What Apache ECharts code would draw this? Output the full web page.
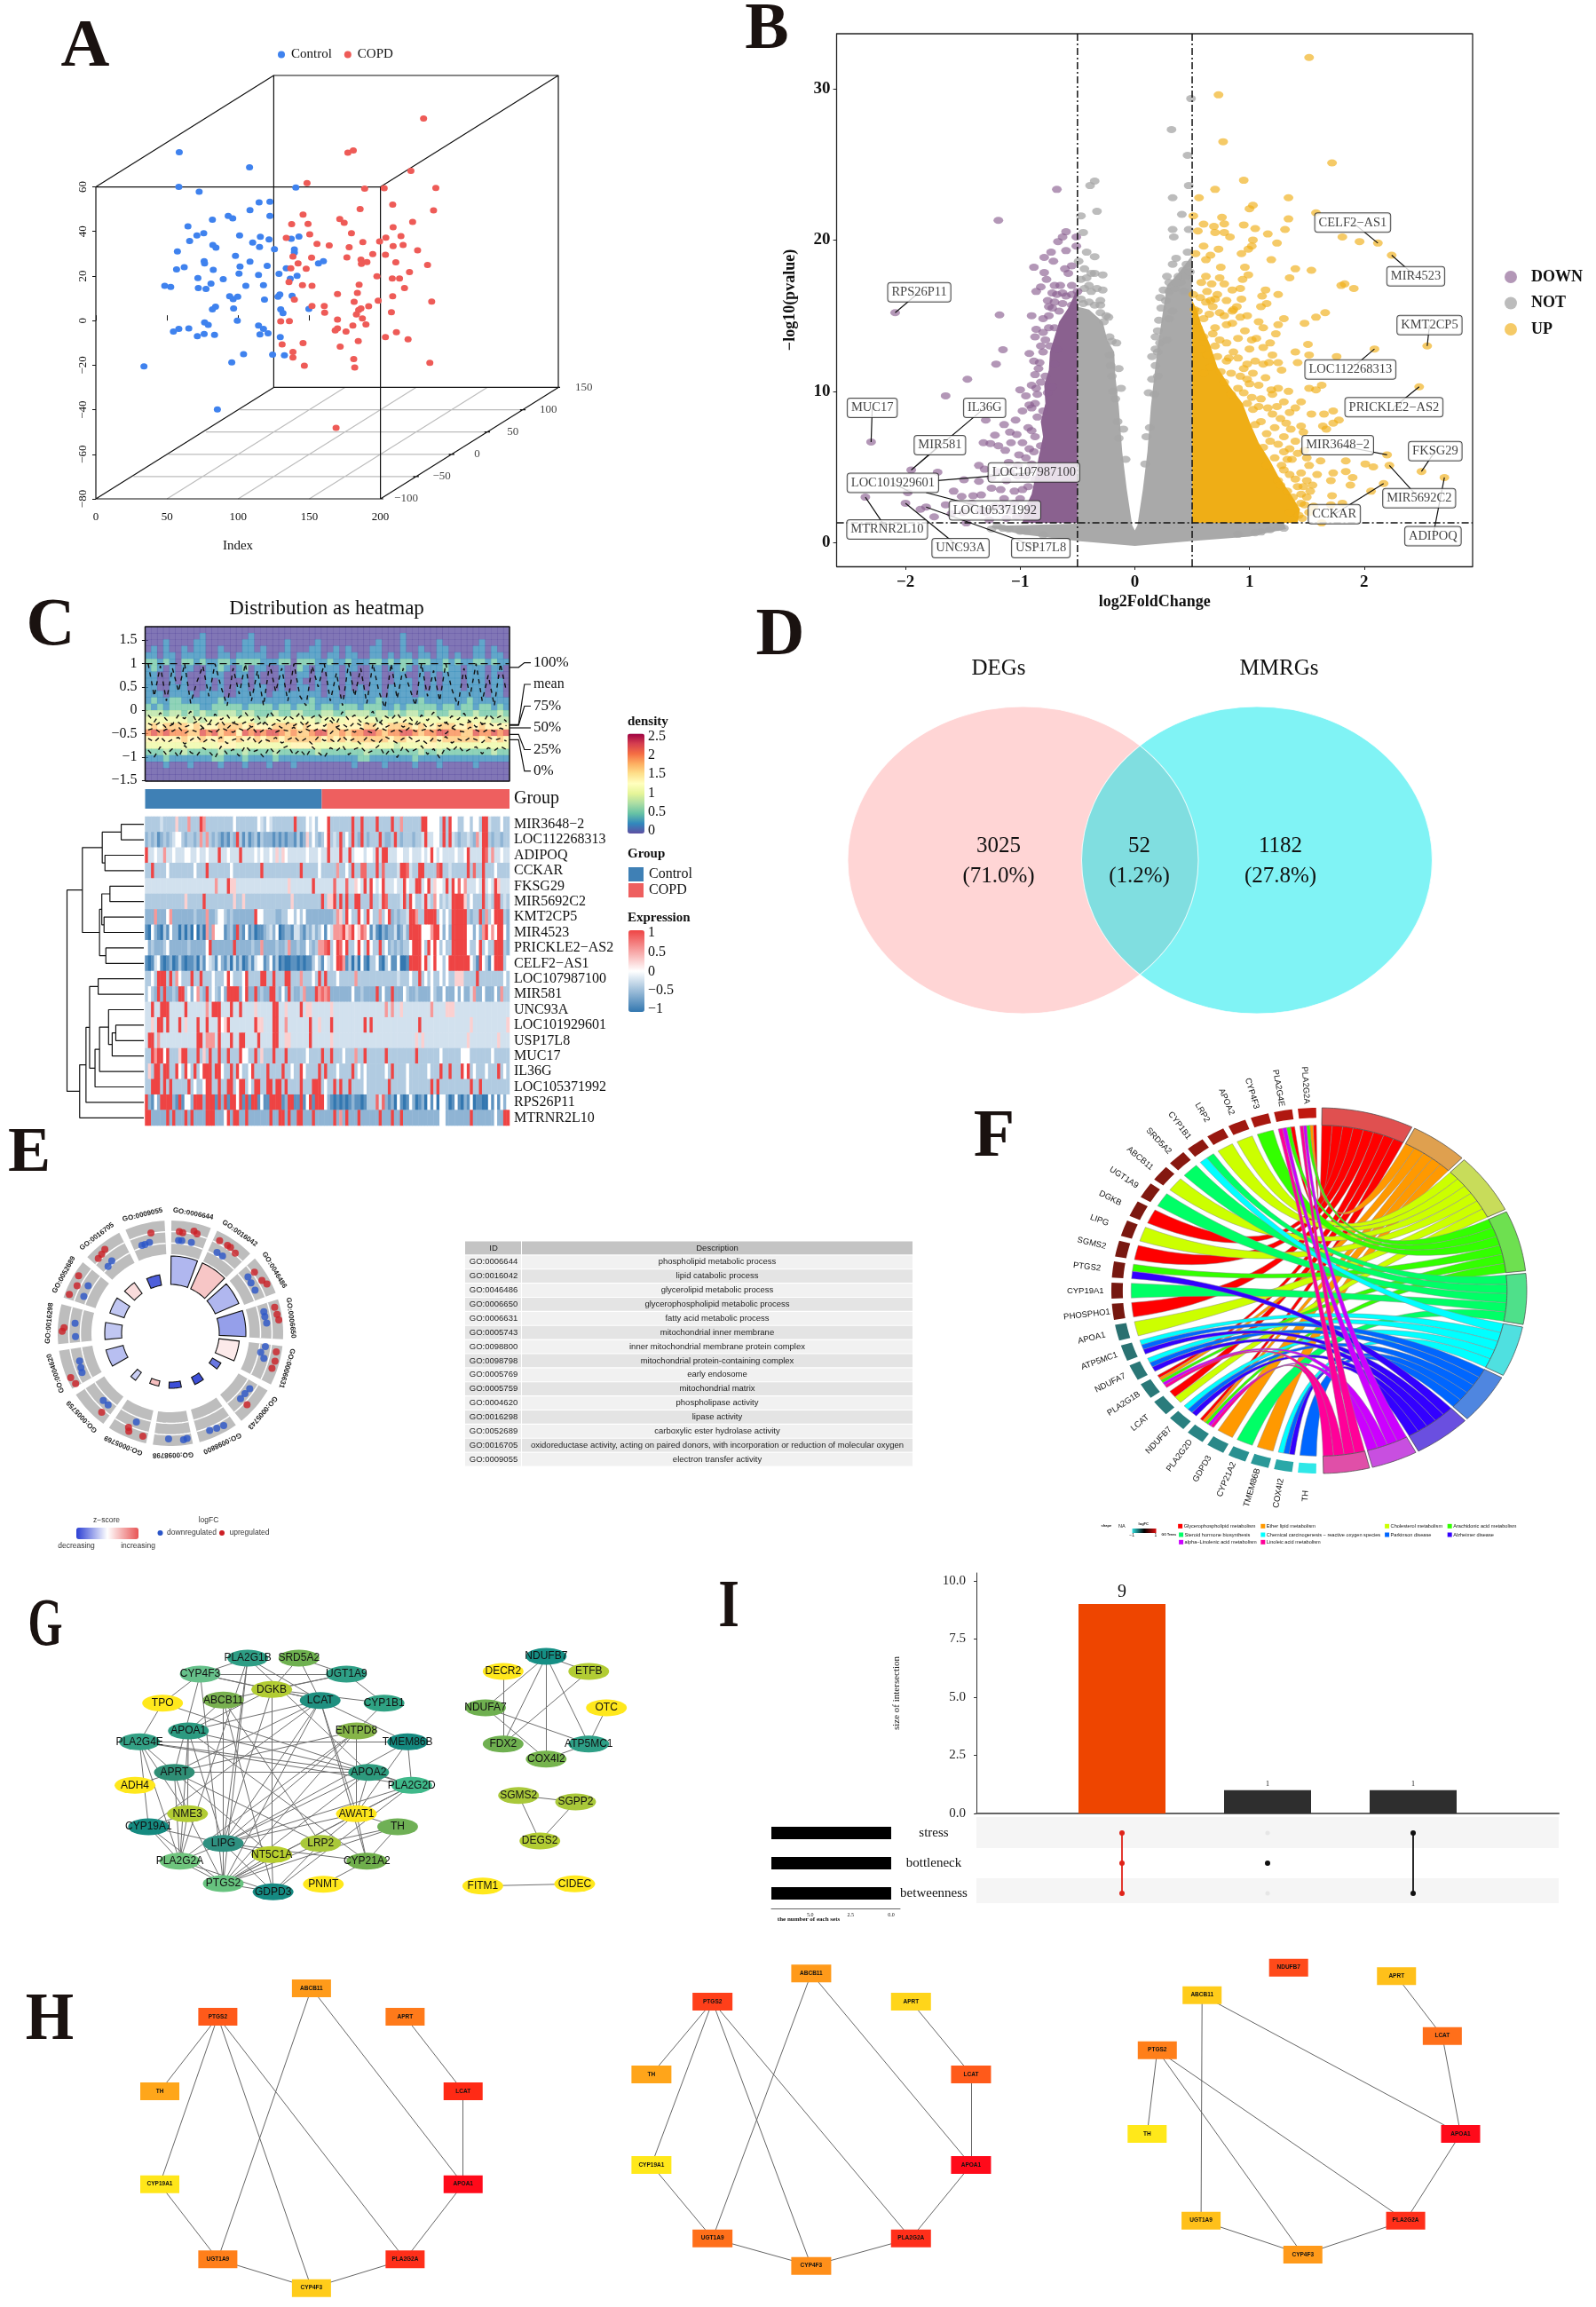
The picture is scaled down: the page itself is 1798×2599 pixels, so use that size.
<!DOCTYPE html>
<html><head><meta charset="utf-8">
<script src="https://cdn.jsdelivr.net/npm/echarts@6/dist/echarts.min.js"></script>
<style>html,body{margin:0;padding:0;background:#fff}#c{width:1798px;height:2599px}</style>
</head><body><div id="c"></div>
<script>
const SERIF='Liberation Serif', SANS='Liberation Sans';
/* ---------- A: 3D scatter, projected values ---------- */
const controlPoints=[[58.6,75.5],[108,68.8],[58.3,60],[72.6,57.8],[140.5,59.7],[114.7,53],[122.3,53.3],[108.3,49.6],[93,47],[96.2,45.9],[81.9,45.3],[122.3,47],[64.7,42.3],[75.8,39.2],[71,38.2],[65.9,35.7],[101,38.2],[115.6,37.6],[121.7,36.4],[110.2,35],[137.3,36.7],[142.7,37.7],[82.2,33.9],[84.4,32.7],[115,33],[125.5,32],[139.5,31.9],[139.5,30.5],[57.3,31],[98.1,29],[76.1,26.7],[76.4,25.7],[108.3,26.5],[62.1,24],[56.7,23],[101.3,24.3],[82.5,22.8],[120.4,24.6],[133.8,23.5],[159.9,26.7],[156.4,25.7],[100.6,21.1],[114.3,20.5],[128.7,21],[141.4,20.1],[136.6,18.8],[71.7,19.1],[89.5,18.6],[80.9,16.6],[48.4,15.6],[52.6,15.1],[72,14.6],[77.4,14.2],[105.4,15.6],[117.8,15.9],[94,10.9],[96.5,9.6],[99.7,10.7],[118.5,9.4],[128,10.7],[129.3,11.7],[137.9,11.1],[84.1,6.2],[81.9,5],[96.8,5.4],[129.9,5],[131.5,3.3],[149.7,5.2],[99.4,0],[76.4,-0.8],[79,-1.9],[114.3,-2.2],[117.8,-3.7],[121,-5.7],[115.3,-6.2],[65.3,-3.5],[58.3,-3.7],[54.5,-4.9],[71.3,-7],[76.1,-6],[83.4,-6.4],[129.6,-7.4],[103.8,-15.1],[124.2,-15.3],[132.5,-15.6],[95.5,-18.8],[33.8,-20.6],[85.4,-39.9]];
const copdPoints=[[230.3,90.7],[177.1,75.3],[180.9,76.3],[221.4,67.2],[148.4,61.7],[188.9,59.2],[202.6,59.4],[238.9,59.5],[208.6,52],[185.7,50.1],[237.3,49.5],[145.6,47.6],[171.4,45.6],[174.5,43.9],[222.6,44.3],[137.6,43.3],[149.1,43.4],[208.9,41.9],[179.6,39.2],[150.3,38.7],[133.8,37.1],[203.8,37.2],[214.4,37.9],[187.6,35.2],[199.4,35.5],[155.4,34.4],[164,33.7],[178,32.9],[208.9,33.4],[215.9,33.9],[226.1,31.5],[194.6,29.8],[203.5,29.5],[138.5,28.7],[151.6,28.2],[176.4,28.3],[186.3,27.3],[190.5,26.3],[186.6,25.5],[210.8,26.2],[142.1,25.7],[137,23.5],[147.8,23.3],[233.1,25],[220.4,21.8],[197.5,19.9],[208.3,18.9],[213.4,18.9],[135.7,17.3],[145.2,15.9],[151.9,15.6],[185,16.1],[216.9,14.6],[183.8,12.4],[169.8,11.9],[208.6,10.9],[139.5,9.4],[181.5,8.4],[198.4,8.9],[236,8.5],[151.9,6.5],[160.5,6.5],[191.7,6.4],[186.3,5.4],[184.7,4.7],[207.7,3.7],[160.8,3.5],[183.1,2.8],[187.3,1],[169.8,0.5],[136,-0.2],[129.9,-0.3],[189.8,-1.7],[180.6,-2.2],[169.8,-3.5],[168.2,-4.4],[175.8,-4.9],[211.2,-5.2],[203.5,-7.4],[219.4,-8.4],[184.4,-9.2],[145.6,-10.1],[130.9,-10.7],[171.7,-11.7],[138.5,-14.1],[138.5,-16.6],[181.2,-17.3],[234.7,-19],[146.5,-20.3],[181.9,-21],[168.8,-48.1]];
const aIndexTicks=[0,50,100,150,200];
const aValueTicks=[-80,-60,-40,-20,0,20,40,60];
const aDepthLabels=[[218,-80,'−100'],[243,-70,'−50'],[268,-60,'0'],[293,-50,'50'],[318,-40,'100'],[343,-30,'150']];
const aBoxLines=[[[0,-80],[200,-80],[200,60],[0,60],[0,-80]],[[125,-30],[325,-30],[325,110],[125,110],[125,-30]],[[0,-80],[125,-30]],[[200,-80],[325,-30]],[[0,60],[125,110]],[[200,60],[325,110]],[[198,-80],[202,-80]],[[223,-70],[227,-70]],[[248,-60],[252,-60]],[[273,-50],[277,-50]],[[298,-40],[302,-40]],[[323,-30],[327,-30]]];
const aFloorLines=[[[101.3,-40],[298,-40]],[[77.4,-50],[273,-50]],[[51,-60],[249,-60]],[[26.4,-70],[224,-70]],[[50,-80],[175,-30]],[[100,-80],[225,-30]],[[150,-80],[275,-30]]];
/* ---------- B: volcano ---------- */
const downPoints=[[-.68,23.35],[-1.19,21.3],[-.6,20.55],[-.63,20.2],[-.51,20.2],[-.67,19.9],[-.51,19.6],[-.6,19.3],[-.73,19.2],[-.79,18.85],[-.71,18.6],[-.55,18.3],[-.88,18.2],[-.61,18.1],[-.79,17.85],[-.58,17.8],[-.77,17.4],[-.7,17],[-.82,16.9],[-.86,16.6],[-.5,16.6],[-.63,16.5],[-.76,16],[-.55,15.7],[-2.09,15.2],[-1.18,15.05],[-.9,15],[-.75,15],[-.66,15.3],[-.86,14.1],[-.8,13.9],[-.87,13.6],[-1.15,12.75],[-1.21,11.8],[-1.46,10.8],[-1,10.1],[-1.65,9.7],[-.87,11.1],[-.82,10.6],[-.95,9.7],[-.87,9.2],[-1.04,8.1],[-2.3,6.65],[-1.3,8.1],[-1.14,7.8],[-1.09,7.3],[-1.03,7.15],[-1.22,7.1],[-1.32,6.6],[-1.26,6.55],[-1.19,6.4],[-1.13,6.1],[-1.36,5.1],[-1.31,4.85],[-1.95,4.8],[-1.72,4.65],[-1.49,4.15],[-1.36,4.05],[-1.58,3.4],[-1.51,3.05],[-1.41,3.1],[-1.34,3.15],[-1.98,3.3],[-2.35,3],[-2,2.6],[-1.65,2.5],[-1.82,2.35],[-1.87,2.2],[-1.75,1.7],[-1.47,1.3],[-1.14,2.9],[-1,2.9],[-.92,6.2],[-1.02,5.1],[-1.09,4.7],[-1.17,3.5],[-1.25,4.3],[-1.1,5.3],[-.95,4.4],[-1.05,3.4],[-1.22,2.4],[-1.3,2],[-1.08,2.1],[-.97,1.8],[-.9,7.4],[-.85,8.3],[-.83,11.9],[-.8,12.6],[-.75,14.2],[-.72,15.5],[-.92,4.8],[-.98,3.5],[-.92,12.5],[-.88,12],[-.84,11.5],[-.78,11],[-.9,10.4],[-.85,9.8],[-.9,8.9],[-.8,8.7],[-.76,9.9],[-.72,10.3],[-.7,11.8],[-.68,12.8],[-.74,13],[-.7,14.2],[-.8,14.8],[-.75,15.6],[-.7,15.9],[-.63,15.8],[-.6,16.3],[-.55,16.4],[-.68,16.4],[-.72,16.5],[-.65,17],[-.55,17],[-.78,13.4],[-.82,13],[-.86,10.2],[-.92,9.1],[-.98,8.7],[-.93,7.6],[-.87,7],[-.82,6.4],[-.88,6],[-.95,5.6],[-.9,5.2],[-.87,4.2],[-.93,3.7],[-1.02,4.4],[-1.12,4.1],[-1.2,4.7],[-1.25,3.6],[-1.15,2.4],[-1.05,2.6],[-1.03,1.7],[-1.12,1.6],[-1.35,2.1],[-1.42,2.6],[-1.5,2],[-1.27,1.5],[-1.6,1.9],[-.98,6.6],[-1.08,6.6],[-1.01,5.8]];
const notPoints=[[.49,29.35],[.32,27.3],[.46,25.6],[.47,23.6],[.33,22.8],[.41,21.7],[.33,20.7],[.34,20.2],[.47,20.7],[-.35,23.9],[-.39,23.6],[-.33,21.9],[-.47,21.6],[-.45,20.5],[-.42,19.2],[-.35,18.9],[-.49,18.6],[-.44,18.1],[-.35,17.8],[-.28,17.7],[-.45,15.8],[-.4,15.9],[-.35,15.7],[-.3,15.2],[-.27,14.6],[-.25,15],[-.22,13.6],[-.2,13.3],[-.22,12.4],[-.21,11.7],[-.2,11],[-.19,10],[-.17,9.5],[-.38,16.6],[-.33,16.8],[-.28,16.7],[-.44,16.8],[-.4,17],[.2,12.6],[.18,11.7],[.2,11],[.15,10.8],[.22,13.2],[.28,13.4],[.3,14.8],[.21,14.7],[.33,15.3],[.27,16],[.25,16.7],[.3,17.2],[.38,17.6],[.42,18],[.28,17.6],[.43,16.6],[.36,18.8],[.33,18.4],[.46,19.2],[.45,18.4],[-.47,17.4],[-.42,17.5],[-.38,17.8],[-1.2,1.1],[-1.25,.9],[-1.1,.9],[1.3,.95],[1.18,.85],[1.1,.7],[-.95,.75],[-.15,8],[-.14,6.9],[.13,7.6],[.17,9.8],[-.47,16.1],[-.3,16],[-.23,14.9],[-.16,13.2],[-.14,11.5],[-.12,10.2],[-.1,7.5],[-.08,5.5],[-.3,15.7],[.15,12.3],[.18,13.6],[.2,14],[.23,15.5],[.18,12.8],[.12,9.9],[.1,7],[.09,5.2],[.22,16.2],[.3,16.6],[.35,16.8],[.4,17.2],[.45,17.6],[.48,17.9],[.36,17.2],[-1.15,.95],[-1,.75],[-.8,.5],[.9,.55],[1.05,.65],[1.25,1]];
const upPoints=[[1.52,32.07],[.73,29.6],[.77,26.5],[1.72,25.1],[.95,23.95],[.7,23.35],[1.34,22.8],[.56,22.8],[1.03,22.3],[1,22.07],[1.58,21.8],[.51,21.6],[.76,21.5],[1.34,21.4],[.78,21.07],[.6,21.05],[.95,21],[.69,20.9],[1.05,20.76],[1.31,20.7],[.55,20.6],[.7,20.5],[.78,20.5],[1.16,20.4],[.83,20.2],[1.81,20.2],[1.96,19.9],[2.12,19.8],[1.03,20],[1.24,19.8],[1.02,19.6],[.6,19.6],[.73,19.4],[.99,19.4],[2.24,19],[.93,19.1],[.66,19],[.53,19.1],[.62,18.7],[1.19,18.7],[.75,18.2],[.96,18.2],[1.4,18.1],[1.54,18],[.99,17.7],[1.35,17.5],[.74,17.5],[.94,17.4],[.67,17.1],[.78,17.1],[1.8,17],[1.83,17.1],[1.91,16.8],[.92,16.8],[1.14,16.7],[1.25,16.4],[.51,16.4],[1.11,16.3],[.7,16.1],[.66,16],[.93,16.1],[1.15,15.8],[1.1,15.6],[.89,15.6],[.52,15.4],[.85,15.3],[1.66,15.2],[1.58,14.9],[1.3,14.8],[1.48,14.5],[1.25,14.4],[1.23,13.8],[1.51,13.1],[2.55,13],[2.09,12.8],[1.4,12.6],[1.52,12.4],[1.76,12.3],[1.42,11.9],[1.25,11.9],[2.48,10.3],[1.63,10.4],[1.52,10.2],[1.58,10.1],[1.25,10.2],[1.34,10],[1.19,10.1],[1.45,9.3],[1.3,9.3],[1.73,8.7],[1.54,8.5],[1.65,8.5],[1.78,8.1],[1.73,7.9],[1.64,7.7],[1.67,7.5],[1.45,7.7],[1.47,7.3],[2.2,5.8],[2.22,5.1],[2.5,4.7],[2.7,4.3],[2.17,3.9],[2.06,3.4],[1.84,5.4],[1.62,5.4],[1.52,5.1],[2.01,5.2],[2.08,5],[1.84,4.7],[1.73,4.6],[1.59,4.5],[1.9,4.3],[1.71,4.1],[1.88,3.8],[1.53,3.4],[1.72,3.1],[1.81,2.6],[1.71,2.5],[1.45,2.6],[1.63,1.3],[1.2,8.5],[1.1,8],[1.3,7],[1.32,7.9],[1.15,7.2],[1.25,6.5],[1.3,6],[1.35,6.2],[1.22,5.6],[1.37,5.5],[1.28,5.1],[1.45,4.6],[1.4,4.2],[1.42,3.7],[1.45,3.2],[1.38,3],[1.48,2.5],[1.5,3],[1.35,2],[1.43,1.8],[1.3,4.8],[1.2,9.8],[1.1,9.5],[1,10.5],[.95,11.5],[1.05,12],[1.12,11.8],[1,12.8],[.9,13.5],[.85,14.5],[1.06,13.5],[.96,14],[.82,12.2],[.78,15],[.7,14.2],[.65,15.1],[.6,14.8],[.55,15.3],[.7,13],[.8,13.2],[.55,14.2],[.6,13.6],[.58,12.8],[.63,12.4],[.68,13.8],[.74,13.4],[.72,12.3],[.66,11.6],[.6,11.2],[.75,11.3],[.8,12],[.86,12.6],[.9,12.2],[.84,11.2],[.78,10.6],[.92,11],[.98,11.8],[1.03,11.2],[.98,10.8],[.9,10.2],[.84,9.8],[.95,9.9],[1.02,9.6],[1.08,10.4],[1.14,10.9],[1.17,11.9],[1.28,11.4],[1.2,12.4],[1.12,12.9],[1.02,13.4],[.98,15],[.92,14.9],[.86,15.4],[.8,14.4],[.74,15.2],[.68,15.6],[.62,15.9],[.57,16.2],[.63,16.6],[.72,16.4],[.8,16],[.85,16.7],[.58,17.2],[.62,17.6],[1.08,14.6],[1.12,14.2],[1.18,13.2],[1.08,9],[1.16,8.9],[1.24,9],[1.35,8.6],[1.4,8.9],[1.27,8.2],[1.36,7.5],[1.22,7.6],[1.18,6.7],[1.4,6.7],[1.48,6.1],[1.42,5.9],[1.33,5.5],[1.5,5.6],[1.25,4.1],[1.35,4.5],[1.5,4.1],[1.55,3.8],[1.47,3.7],[1.33,3.4],[1.56,2.4],[1.52,2],[1.46,1.6],[1.05,7.8],[1.12,6.3],[1.03,8.8],[.98,9.2],[1.15,5.1],[1.27,3.8]];
const denseDownOutline=[[-.5,1.3],[-.98,1.3],[-.95,2.4],[-.9,3.2],[-.86,4.6],[-.84,5.6],[-.8,7],[-.82,8],[-.78,9.2],[-.79,10.4],[-.75,11.4],[-.74,12.6],[-.7,13.6],[-.66,14.6],[-.58,15.5],[-.5,16.8]];
const denseUpOutline=[[.5,1.3],[1.42,1.3],[1.44,2.2],[1.36,3.2],[1.25,4.4],[1.18,5.4],[1.08,6.6],[1,8],[.94,9.2],[.82,10.4],[.72,11.6],[.66,13],[.58,14.4],[.54,15.4],[.5,16]];
const denseNotLeft=[[-.5,1],[-.5,15.6],[-.4,15.4],[-.28,14.6],[-.24,13.4],[-.18,12.6],[-.17,11],[-.14,9],[-.11,6],[-.07,3.5],[-.02,1]];
const denseNotRight=[[.02,1],[.07,3.5],[.11,6],[.14,9],[.17,11],[.2,13],[.24,15],[.28,17],[.38,17.8],[.5,19],[.5,1]];
const denseNotBase=[[-1.25,1.1],[-1.25,1],[-1,.55],[-.5,.1],[0,-.22],[.5,.1],[1,.4],[1.32,.9],[1.3,1.3],[.2,1.3],[.02,1.1],[0,.8],[-.02,1.1],[-.2,1.3]];
const volcanoLabels=[['CELF2−AS1',1.9,21.15,2.12,19.8],['MIR4523',2.45,17.6,2.24,19],['RPS26P11',-1.88,16.55,-2.09,15.2],['KMT2CP5',2.57,14.37,2.55,13],['LOC112268313',1.88,11.44,2.09,12.8],['PRICKLE2−AS2',2.26,8.95,2.48,10.3],['MIR3648−2',1.77,6.44,2.2,5.8],['FKSG29',2.62,6.05,2.5,4.7],['MIR5692C2',2.48,2.93,2.22,5.1],['CCKAR',1.74,1.88,2.17,3.9],['ADIPOQ',2.6,.42,2.7,4.3],['MUC17',-2.29,8.9,-2.3,6.65],['IL36G',-1.31,8.9,-1.95,4.8],['MIR581',-1.7,6.44,-1.95,4.8],['LOC101929601',-2.11,3.95,-1.95,3.3],['LOC107987100',-.88,4.63,-1.72,4.1],['LOC105371992',-1.22,2.12,-1.82,3.3],['MTRNR2L10',-2.16,.86,-2.35,3],['UNC93A',-1.52,-.37,-2,2.6],['USP17L8',-.82,-.37,-1.82,2.35]];
/* ---------- C: density heatmap, quantiles, expression ---------- */
const densityRows=[
'000000000000000000000000000000000000000000000000000000000000',
'000000000100000001000000000000000000000000100000000000000000',
'000100001100000011000001000010000000001000100000100000010000',
'010100101100100011010001000110010100011000100100110000110100',
'110110111100110111110011011110110110011010110110110100110110',
'221210221211221222211122022211211211122121221221121211221211',
'121010110011210120110010021011110110011011210111121101110110',
'110010100011100110100010011010110100011001100101011101110100',
'110010100010100010100010010010110100011001110101011101110110',
'110011100010100110110010011010110101011011110101011101110110',
'111011110111100111110111111110110111111011110111111111110110',
'121122111111211111111111111211111111112111111211111112111111',
'212122222112222212222122122212212221222112122222122122122121',
'333233232322333233222322332223322333323323233233223322322232',
'444444434344544444334444444434444554443444544444444444444333',
'565666656555666656555666656555665555665566665655666556565555',
'787877766878677587878876766788667677887677887677887766877878',
'555555655655655655656656666665656566666656655556566666656565',
'444444444444555444444444555544444444554443444455444444444444',
'222322322222322232222322222232222222322222222322322222222322',
'111211111112211121111211111111111112211111112111111111111111',
'000100010000100010001000100000000010000100001000100000100000',
'000000000000000000000000000000000000000000000000000000000000',
'000000000000000000000000000000000000000000000000000000000000'];
const q100=[1,.3,.95,.2,.9,.4,1,.15,.6,.95,.3,1,.5,.1,.9,.35,1,.2,.85,.1,1,.4,.9,.2,1,.3,.1,.95,.5,1,.2,.8,.1,1,.3,.9,.15,1,.4,.05,1,.25,.9,.5,.1,1,.3,.85,.2,1,.45,.1,.9,.3,1,.2,.75,.1,1,.4];
const q75=[-.1,-.25,-.05,-.2,-.3,-.1,-.18,-.02,-.25,-.12,-.3,-.08,-.2,-.1,-.28,-.15,-.05,-.22,-.12,-.3,-.02,-.18,-.25,-.1,-.2,-.05,-.3,-.15,-.08,-.22,-.12,-.28,-.03,-.2,-.1,-.25,-.15,-.02,-.3,-.12,-.2,-.06,-.25,-.14,-.3,-.1,-.22,-.04,-.18,-.28,-.12,-.2,-.06,-.26,-.15,-.3,-.08,-.2,-.12,-.24];
const qMean=[-.28,-.34,-.25,-.38,-.3,-.26,-.36,-.31,-.24,-.37,-.29,-.33,-.22,-.39,-.27,-.32,-.25,-.36,-.3,-.23,-.35,-.28,-.38,-.26,-.33,-.24,-.37,-.3,-.27,-.34,-.22,-.36,-.29,-.38,-.25,-.32,-.27,-.35,-.23,-.37,-.3,-.26,-.36,-.28,-.33,-.24,-.38,-.29,-.34,-.25,-.37,-.28,-.32,-.23,-.36,-.3,-.26,-.35,-.29,-.33];
const q50=[-.42,-.38,-.48,-.4,-.45,-.36,-.5,-.41,-.46,-.38,-.44,-.49,-.37,-.43,-.47,-.39,-.45,-.35,-.5,-.42,-.38,-.47,-.41,-.44,-.36,-.48,-.4,-.46,-.39,-.43,-.5,-.37,-.45,-.41,-.47,-.38,-.44,-.49,-.36,-.42,-.46,-.4,-.48,-.37,-.45,-.43,-.39,-.47,-.41,-.5,-.38,-.44,-.46,-.36,-.42,-.48,-.4,-.45,-.38,-.43];
const q25=[-.6,-.68,-.56,-.7,-.62,-.58,-.72,-.64,-.55,-.69,-.6,-.66,-.57,-.71,-.63,-.59,-.68,-.55,-.73,-.61,-.66,-.58,-.7,-.63,-.56,-.68,-.6,-.72,-.57,-.65,-.62,-.7,-.55,-.67,-.6,-.72,-.58,-.65,-.69,-.56,-.63,-.7,-.6,-.57,-.68,-.62,-.72,-.59,-.66,-.56,-.7,-.61,-.67,-.58,-.63,-.69,-.57,-.64,-.6,-.66];
const q0=[-.85,-1,-.78,-.95,-.82,-1,-.75,-.9,-.97,-.8,-.88,-1.02,-.77,-.93,-.83,-.98,-.76,-.9,-.85,-1,-.79,-.94,-.82,-.76,-.96,-.84,-.99,-.78,-.9,-1.01,-.8,-.87,-.75,-.95,-.83,-.78,-.92,-.86,-.75,-.97,-.81,-1.01,-.77,-.9,-.84,-.76,-.94,-.82,-1.02,-.79,-.88,-.75,-.9,-.83,-.78,-.93,-.8,-.86,-.77,-.84];
const quantileTags=[['100%',225,212],['mean',383,272],['75%',385,332],['50%',392,392],['25%',410,452],['0%',425,511]];
const groupCounts=[95,101];
const exprGenes=['MIR3648−2','LOC112268313','ADIPOQ','CCKAR','FKSG29','MIR5692C2','KMT2CP5','MIR4523','PRICKLE2−AS2','CELF2−AS1','LOC107987100','MIR581','UNC93A','LOC101929601','USP17L8','MUC17','IL36G','LOC105371992','RPS26P11','MTRNR2L10'];
const exprRows=[
'3333343333 6333733397 3333333335 3333333543 5433333339 3335453555 9333333393 3933339333 3933733333 3995555393 9553355355 3994333533',
'2323123234 5532332373 7323212132 9313123132 2212121221 3126353235 9343935393 2932333932 2393233323 3494455393 9432334327 4993233233',
'9445447445 4445544544 5444944544 4944445454 4546465444 4445444544 9444944945 5545549499 4445544544 4545954544 4454459444 4984744544',
'3393333533 3333335333 9333333353 3333333393 3333333333 3933333533 3337335393 3883339383 3334998433 9933338933 4333339383 3933353333',
'4444444444 4444444444 4447444966 4444444444 4444444644 4444494444 4484448446 5494954594 4454495449 9459465549 4958574445 4945496444',
'3333333333 3336333339 3333333336 3363333333 3333333363 3333333393 6693939339 9333933498 3333493953 3494375343 4999963533 3934399343',
'2227222572 2222223222 7223553232 2222229553 3332233553 5352222222 2237639533 9539533735 9232334997 3399993535 3999993233 9273599932',
'1052103152 2020205020 7275551231 9215120112 3425012214 4213242351 5477796795 6875141021 2241242999 9555799525 2999995525 2795759952',
'5232223522 2222322222 5922222229 2222232272 2223223722 3225323778 9359859335 9539533935 2323233599 9539595353 3999995335 9353399932',
'1014510120 1310112031 5431521304 1301314551 2513010011 0101135315 4359971303 0510335103 5115001999 9594595535 9999999531 9531599935',
'3353999393 7533393393 3353335953 3359333399 3393339933 3733353939 3335333337 3333333333 3334333533 9353533535 3366633339 3333333353',
'3532929223 2993525732 9353252999 9259229232 2993252932 2372229787 8222222252 2322229252 2922253223 2222532252 2252522472 2522252733',
'4494499944 4449444444 7499944494 4944446444 4499446444 4946644444 4644444444 4444444447 4744644444 4444744446 6644444444 4444444444',
'4464994944 4946444944 9444956944 4444449664 4499447444 4444944644 4944444444 4494944444 4444444444 9444444444 4444444644 4444444446',
'4994744444 4444444994 7774944494 4994444944 4499446644 4444944444 4644444444 4444444444 4444444446 4644444444 4444446444 4444446444',
'3397995933 3699333936 3933933933 3955339363 3393339333 3335333393 3933353337 3393333339 3333333339 3333333533 3333555333 3333533333',
'3639939933 9539539359 9939953393 9533593333 9333393353 3953333939 3335333393 5353333335 3933335333 3335333933 9333959353 3353339353',
'3399939393 3333935335 9933933993 5993539933 9939939333 3933399935 3393933933 3353333333 9333335333 3333939333 3333333933 9333333333',
'9215299992 1915529992 9991929199 5919199151 1999912991 1915919995 2101010121 1013338482 1205101520 1205150552 0151021501 1005151525',
'9922222929 2229292222 9992225929 9229222222 2922992922 9922292222 2292729222 9222222922 2922922222 2222222552 2222222922 2222252299'];
const dendroMerges=[[50,'r0','r1'],[86,'r2','r3'],[92,'m0','m1'],[75,'r4','r5'],[88,'r6','r7'],[84,'r8','r9'],[93,'m3','m4'],[98,'m6','m5'],[136,'m2','m7'],[101,'r10','r11'],[62,'r13','r14'],[70,'m10','r15'],[78,'r12','m11'],[98,'m12','r16'],[108,'m13','r17'],[120,'m9','m14'],[128,'m15','r18'],[142,'m16','r19'],[170,'m8','m17']];
/* ---------- D: Venn ---------- */
const vennSets=['DEGs','MMRGs'];
const vennValues=[[3025,'71.0%'],[52,'1.2%'],[1182,'27.8%']];
/* ---------- E: GO circle ---------- */
const goIds=['GO:0006644','GO:0016042','GO:0046486','GO:0006650','GO:0006631','GO:0005743','GO:0098800','GO:0098798','GO:0005769','GO:0005759','GO:0004620','GO:0016298','GO:0052689','GO:0016705','GO:0009055'];
const goDesc=['phospholipid metabolic process','lipid catabolic process','glycerolipid metabolic process','glycerophospholipid metabolic process','fatty acid metabolic process','mitochondrial inner membrane','inner mitochondrial membrane protein complex','mitochondrial protein-containing complex','early endosome','mitochondrial matrix','phospholipase activity','lipase activity','carboxylic ester hydrolase activity','oxidoreductase activity, acting on paired donors, with incorporation or reduction of molecular oxygen','electron transfer activity'];
const goBarTop=[87,87,84,85,78,66,64,62,61,66,75,74,72,70,67];
const goBarSpan=[20,20,18,20,17,7,10,13,10,6,15,15,15,12,13];
const goZ=[-.9,.8,-.9,-1.2,.3,-1.7,-2.2,-2.2,.9,-.6,-.8,-.7,-.7,.5,-2];
const goRedDots=[[115,5],[114,7],[118,13],[116,15],[118,28],[118,33],[118,35],[116,39],[117,54],[119,60],[122,63],[121,76],[122,80],[123,83],[121,100],[122,105],[121,109],[118,133],[120,203],[116,204],[120,195],[118,221],[123,246],[121,242],[122,271],[120,273],[122,302],[118,297],[122,291],[120,322],[118,319],[117,316],[115,349]];
const goBlueDots=[[105,5],[105,7],[105,13],[105,30],[105,34],[108,54],[107,58],[107,63],[108,77],[108,80],[109,84],[108,98],[104,102],[109,105],[109,125],[108,129],[108,133],[120,150],[119,154],[118,158],[119,181],[121,173],[120,171],[107,201],[107,225],[107,221],[107,253],[108,249],[109,246],[108,276],[107,268],[107,300],[106,293],[105,321],[103,317],[105,347],[104,344],[104,342]];
/* ---------- F: GOChord ---------- */
const chordTerms=['Glycerophospholipid metabolism','Ether lipid metabolism','Cholesterol metabolism','Arachidonic acid metabolism','Steroid hormone biosynthesis','Chemical carcinogenesis − reactive oxygen species','Parkinson disease','Alzheimer disease','alpha−Linolenic acid metabolism','Linoleic acid metabolism'];
const ribbonColors=['#FF0000','#FF9900','#CCFF00','#33FF00','#00FF66','#00FFFF','#0066FF','#3300FF','#CC00FF','#FF0099'];
const termRingColors=['#E05050','#DFA04F','#C8DC5A','#6EE050','#4FE08A','#4FE0E0','#4F86E0','#6A4FE0','#C84FE0','#E04FA8'];
const chordGenes=['PLA2G2A','PLA2G4E','CYP4F3','APOA2','LRP2','CYP1B1','SRD5A2','ABCB11','UGT1A9','DGKB','LIPG','SGMS2','PTGS2','CYP19A1','PHOSPHO1','APOA1','ATP5MC1','NDUFA7','PLA2G1B','LCAT','NDUFB7','PLA2G2D','GDPD3','CYP21A2','TMEM86B','COX4I2','TH'];
const chordGeneTerms=[[0,1,3,8,9],[0,3,8,9],[3],[2],[2],[4,5],[4],[2],[4],[0],[2],[0],[3,7],[4],[0],[2],[5,6,7],[5,6,7],[0,1,3,8,9],[0,2],[5,6,7],[0,1,3,8,9],[1],[4],[1],[5,6,7],[6]];
const geneRing=['#C01810','#B01810','#A81810','#A01810','#981810','#8E1810','#881810','#841810','#801810','#7C1810','#7A1810','#781810','#761810','#761810','#761810','#2A7070','#2A7272','#2A7676','#2A7878','#2A7C7C','#2A8080','#2A8484','#2A8888','#2A9090','#2A9898','#2AA8A8','#2FE8E8'];
/* ---------- G: network ---------- */
const netNodes=[['PLA2G1B',547,324,'#2E9E85'],['SRD5A2',660,324,'#6FB150'],['UGT1A9',765,378,'#2E9F86'],['CYP4F3',442,378,'#66C08A'],['DGKB',600,430,'#B2CC33'],['ABCB11',493,466,'#78B04F'],['LCAT',707,467,'#1F9080'],['CYP1B1',848,476,'#2FA283'],['TPO',359,476,'#FFE81C'],['APOA1',416,570,'#2C9A80'],['ENTPD8',787,570,'#86B548'],['PLA2G4E',308,607,'#33A185'],['TMEM86B',900,607,'#14897F'],['APRT',385,710,'#2F8E75'],['APOA2',814,710,'#2D9A7D'],['ADH4',298,754,'#FFE81C'],['PLA2G2D',909,754,'#3FB98A'],['NME3',414,850,'#B2CC33'],['AWAT1',787,850,'#FCE51B'],['CYP19A1',328,894,'#158A80'],['TH',878,894,'#6FB055'],['LIPG',493,950,'#2E9080'],['LRP2',708,950,'#A9C83A'],['NT5C1A',600,988,'#B8CF2E'],['PLA2G2A',397,1010,'#6FC47D'],['CYP21A2',810,1010,'#6FAE4C'],['PNMT',714,1088,'#FFE81C'],['PTGS2',493,1086,'#67C37F'],['GDPD3',603,1114,'#158A82'],['NDUFB7',1206,318,'#158F85'],['DECR2',1111,369,'#FFE81C'],['ETFB',1300,369,'#B2CC33'],['OTC',1339,492,'#FFE81C'],['NDUFA7',1072,492,'#6FB050'],['FDX2',1111,614,'#6FB050'],['ATP5MC1',1300,614,'#2E9F86'],['COX4I2',1206,665,'#76B44D'],['SGMS2',1145,788,'#A9C83A'],['SGPP2',1271,810,'#A9C83A'],['DEGS2',1192,942,'#B2CC33'],['FITM1',1066,1094,'#FFE81C'],['CIDEC',1269,1087,'#FFE81C']];
const netEdges='CYP4F3-PLA2G1B CYP4F3-UGT1A9 CYP4F3-DGKB CYP4F3-LCAT CYP4F3-TPO CYP4F3-APRT CYP4F3-PTGS2 PLA2G1B-LCAT PLA2G1B-LIPG PLA2G1B-PTGS2 PLA2G1B-PLA2G2A PLA2G1B-APOA2 SRD5A2-UGT1A9 SRD5A2-DGKB SRD5A2-LCAT UGT1A9-CYP1B1 UGT1A9-DGKB UGT1A9-ABCB11 DGKB-CYP1B1 DGKB-LCAT DGKB-APOA1 DGKB-LIPG DGKB-NT5C1A ABCB11-APOA1 ABCB11-PTGS2 ABCB11-LRP2 ABCB11-GDPD3 TPO-PLA2G4E TPO-PLA2G2D LCAT-TMEM86B LCAT-APOA1 LCAT-APRT LCAT-LIPG LCAT-PTGS2 LCAT-AWAT1 LCAT-CYP19A1 LCAT-CYP21A2 CYP1B1-ENTPD8 ENTPD8-APRT ENTPD8-LIPG ENTPD8-PLA2G2A ENTPD8-PTGS2 ENTPD8-AWAT1 APOA1-APOA2 APOA1-NME3 APOA1-PLA2G2A APOA1-LIPG APOA1-CYP21A2 PLA2G4E-TMEM86B PLA2G4E-APOA2 PLA2G4E-PLA2G2D PLA2G4E-APRT PLA2G4E-NME3 PLA2G4E-PLA2G2A PLA2G4E-CYP19A1 TMEM86B-PLA2G2D TMEM86B-LIPG TMEM86B-AWAT1 APRT-ADH4 APRT-NME3 APRT-PLA2G2A APRT-NT5C1A APRT-LRP2 APRT-APOA2 APOA2-PLA2G2D APOA2-LIPG APOA2-AWAT1 APOA2-PTGS2 PLA2G2D-LIPG PLA2G2D-PTGS2 PLA2G2D-GDPD3 PLA2G2D-AWAT1 NME3-PLA2G2A NME3-PTGS2 NME3-CYP19A1 AWAT1-TH AWAT1-LIPG AWAT1-LRP2 AWAT1-CYP21A2 AWAT1-PTGS2 CYP19A1-LIPG CYP19A1-PLA2G2A CYP19A1-PTGS2 LIPG-PLA2G2A LIPG-PTGS2 LIPG-GDPD3 LIPG-CYP21A2 LIPG-NT5C1A LRP2-TH LRP2-PTGS2 LRP2-GDPD3 NT5C1A-GDPD3 NT5C1A-PTGS2 TH-CYP21A2 TH-PTGS2 PNMT-CYP21A2 PLA2G2A-PTGS2 PLA2G2A-GDPD3 PTGS2-GDPD3 NDUFB7-ETFB NDUFB7-NDUFA7 NDUFB7-FDX2 NDUFB7-COX4I2 NDUFB7-ATP5MC1 DECR2-FDX2 ETFB-FDX2 OTC-ATP5MC1 NDUFA7-ATP5MC1 NDUFA7-COX4I2 ATP5MC1-COX4I2 SGMS2-SGPP2 SGMS2-DEGS2 SGPP2-DEGS2 FITM1-CIDEC'.split(' ');
/* ---------- H: hub networks ---------- */
const hubA=[['ABCB11',306,150,'#FF9B1A'],['PTGS2',214,246,'#FF5A1A'],['APRT',398,246,'#FF7A1A'],['TH',157,498,'#FFA61A'],['LCAT',455,498,'#FF2A15'],['CYP19A1',157,812,'#FFE61A'],['APOA1',455,812,'#FF0A1A'],['UGT1A9',214,1066,'#FF7F1A'],['PLA2G2A',398,1066,'#FF2F1A'],['CYP4F3',306,1163,'#FFCC1A']];
const hubB=[['ABCB11',797,100,'#FF9A1A'],['PTGS2',700,195,'#FF3F1A'],['APRT',895,195,'#FFD51A'],['TH',640,441,'#FFA51A'],['LCAT',954,441,'#FF5A1A'],['CYP19A1',640,747,'#FFE81A'],['APOA1',954,747,'#FF0A1A'],['UGT1A9',700,995,'#FF6F1A'],['PLA2G2A',895,995,'#FF2F1A'],['CYP4F3',797,1088,'#FF8F1A']];
const hubC=[['NDUFB7',1266,80,'#FF4A1A'],['APRT',1372,109,'#FFC01A'],['ABCB11',1181,173,'#FFCC1A'],['LCAT',1417,311,'#FF6F1A'],['PTGS2',1137,359,'#FF7F1A'],['TH',1127,642,'#FFE81A'],['APOA1',1435,642,'#FF0A1A'],['UGT1A9',1180,935,'#FFC01A'],['PLA2G2A',1381,935,'#FF2F1A'],['CYP4F3',1280,1050,'#FF9A1A']];
const hubEdges12='PTGS2-TH PTGS2-CYP19A1 PTGS2-CYP4F3 PTGS2-PLA2G2A ABCB11-UGT1A9 ABCB11-APOA1 APRT-LCAT LCAT-APOA1 CYP19A1-UGT1A9 UGT1A9-CYP4F3 CYP4F3-PLA2G2A PLA2G2A-APOA1'.split(' ');
const hubEdges3='APRT-LCAT LCAT-APOA1 ABCB11-APOA1 ABCB11-UGT1A9 PTGS2-TH PTGS2-CYP4F3 PTGS2-PLA2G2A UGT1A9-CYP4F3 CYP4F3-PLA2G2A PLA2G2A-APOA1'.split(' ');
/* ---------- I: UpSet ---------- */
const upsetSizes=[9,1,1];
const upsetSets=['stress','bottleneck','betweenness'];
const upsetSetSizes=[7.4,7.4,7.4];
const upsetTicks=[0,2.5,5,7.5,10];
const upsetMembers=[[0,1,2],[1],[0,2]];

/* ---------- option assembly ---------- */
const grids=[],xAxes=[],yAxes=[],series=[],graphic=[],visualMaps=[];
const noSplit={splitLine:{show:false}};
function addGrid(r,x,y){const i=grids.length;
 grids.push({left:r[0],top:r[1],width:r[2],height:r[3],containLabel:false,outerBoundsMode:'none',show:false});
 xAxes.push(Object.assign({gridIndex:i,type:'value',show:false},noSplit,x));
 yAxes.push(Object.assign({gridIndex:i,type:'value',show:false},noSplit,y));
 return i;}
function on(i,o){series.push(Object.assign({xAxisIndex:i,yAxisIndex:i,silent:true},o));return series.length-1;}
function polylineData(list){const d=[];list.forEach((l,k)=>{if(k)d.push([null,null]);l.forEach(p=>d.push(p));});return d;}
function lineOn(i,list,style,z){on(i,{type:'line',data:polylineData(list),showSymbol:false,symbol:'none',clip:false,connectNulls:false,lineStyle:style,z:z||3,animation:false});}
function poly(i,pts,color,z){on(i,{type:'custom',data:[[0,0]],clip:false,z:z||2,renderItem:(p,api)=>({type:'polygon',shape:{points:pts.map(q=>api.coord(q))},style:{fill:color}})});}
function txt(t,x,y,fs,o){graphic.push(Object.assign({type:'text',x:x,y:y,silent:true,z:50,style:{text:t,font:((o&&o.weight)||'normal')+' '+fs+'px "'+((o&&o.family)||SERIF)+'"',fill:(o&&o.color)||'#111',textAlign:(o&&o.align)||'center',textVerticalAlign:'middle',align:(o&&o.align)||'center',verticalAlign:'middle'}},o&&o.rotation!=null?{rotation:o.rotation}:{},o&&o.scaleX?{scaleX:o.scaleX}:{}));}
function minusFmt(v){return String(v).replace('-','−');}

/* panel letters */
[['A',96,54,76,1],['B',864,35,74,1],['C',57,706,76,1],['D',879,717,76,1],['E',33,1300,72,1],['F',1120,1282,76,1],['G',51,1833,76,.66],['H',56,2277,76,.92],['I',821,1812,76,.8]].forEach(a=>txt(a[0],a[1],a[2],a[3],{weight:'bold',color:'#1a1210',scaleX:a[4]}));

/* A */
const gA=addGrid([108,85,521,477],
 {show:true,min:0,max:325,axisLine:{show:false},axisTick:{show:true,customValues:aIndexTicks,inside:true,length:6,lineStyle:{color:'#111'}},axisLabel:{show:true,customValues:aIndexTicks,fontFamily:SERIF,fontSize:13,color:'#111',margin:14}},
 {show:true,min:-80,max:110,axisLine:{show:false},axisTick:{show:true,customValues:aValueTicks,length:4,lineStyle:{color:'#111'}},axisLabel:{show:true,customValues:aValueTicks,rotate:90,fontFamily:SERIF,fontSize:13,color:'#111',margin:8,formatter:minusFmt}});
lineOn(gA,aFloorLines,{color:'#bdbdbd',width:1.2},1);
lineOn(gA,aBoxLines,{color:'#111',width:1.2},2);
on(gA,{type:'scatter',name:'Control',data:controlPoints,symbolSize:[8,7],itemStyle:{color:'#3F82EE',opacity:1},z:4,clip:false});
on(gA,{type:'scatter',name:'COPD',data:copdPoints,symbolSize:[8,7],itemStyle:{color:'#EE5B57',opacity:1},z:5,clip:false});
on(gA,{type:'scatter',data:aDepthLabels.map(d=>({value:[d[0],d[1]],label:{formatter:d[2]}})),symbolSize:1,itemStyle:{color:'transparent'},clip:false,label:{show:true,position:'inside',fontFamily:SERIF,fontSize:13,color:'#111'},z:6});
txt('Index',268,615,15);

/* B */
const gB=addGrid([942.6,38,716.4,600],
 {show:true,min:-2.6,max:2.946,position:'bottom',name:'log2FoldChange',nameLocation:'middle',nameGap:31,nameTextStyle:{fontFamily:SERIF,fontWeight:'bold',fontSize:18,color:'#111'},axisLine:{show:true,onZero:false,lineStyle:{color:'#222',width:1.3}},axisTick:{show:true,customValues:[-2,-1,0,1,2],length:4,lineStyle:{color:'#222'}},axisLabel:{show:true,customValues:[-2,-1,0,1,2],fontFamily:SERIF,fontWeight:'bold',fontSize:19,color:'#111',margin:9,formatter:minusFmt}},
 {show:true,min:-1.57,max:33.64,name:'−log10(pvalue)',nameLocation:'middle',nameGap:43,nameTextStyle:{fontFamily:SERIF,fontWeight:'bold',fontSize:18,color:'#111'},axisLine:{show:true,onZero:false,lineStyle:{color:'#222',width:1.3}},axisTick:{show:true,customValues:[0,10,20,30],length:4,lineStyle:{color:'#222'}},axisLabel:{show:true,customValues:[0,10,20,30],fontFamily:SERIF,fontWeight:'bold',fontSize:19,color:'#111',margin:7}});
lineOn(gB,[[[-2.6,33.64],[2.946,33.64],[2.946,-1.57]]],{color:'#222',width:1.3},2);
poly(gB,denseNotBase,'#A9A9A9',3);poly(gB,denseNotLeft,'#A9A9A9',3);poly(gB,denseNotRight,'#A9A9A9',3);
poly(gB,denseDownOutline,'#8A618F',3);poly(gB,denseUpOutline,'#EFAE16',3);
on(gB,{type:'scatter',name:'NOT',data:notPoints,symbolSize:[11,8],itemStyle:{color:'#A6A6A6',opacity:.75},z:4});
on(gB,{type:'scatter',name:'DOWN',data:downPoints,symbolSize:[11,8],itemStyle:{color:'#8A5F90',opacity:.65},z:4});
on(gB,{type:'scatter',name:'UP',data:upPoints,symbolSize:[11,8],itemStyle:{color:'#EFAE16',opacity:.65},z:4});
[[[-.5,-1.57],[-.5,33.64]],[[.5,-1.57],[.5,33.64]],[[-2.6,1.3],[2.946,1.3]]].forEach(l=>lineOn(gB,[l],{color:'#111',width:1.5,type:[8,3,2,3]},5));
lineOn(gB,volcanoLabels.map(l=>[[l[1],l[2]],[l[3],l[4]]]),{color:'#111',width:1.2},6);
on(gB,{type:'scatter',data:volcanoLabels.map(l=>({value:[l[1],l[2]],label:{formatter:l[0]}})),symbolSize:1,itemStyle:{color:'transparent'},z:7,clip:false,label:{show:true,position:'inside',fontFamily:SERIF,fontSize:14.5,color:'#111',backgroundColor:'#fff',borderColor:'#222',borderWidth:1,borderRadius:3,padding:[3,4]}});

/* C density */
const DR={left:163.5,top:706,w:410.5,h:174};
const gD=addGrid([DR.left,DR.top,DR.w,DR.h],{show:false,type:'category',data:densityRows[0].split('').map((c,i)=>i)},{show:false,type:'category',inverse:true,data:densityRows.map((c,i)=>i)});
const densData=[];densityRows.forEach((row,r)=>row.split('').forEach((c,k)=>densData.push([k,r,+c*.27])));
const sDens=on(gD,{type:'heatmap',data:densData,progressive:0,animation:false,z:1,itemStyle:{opacity:.78}});
const qTicks=[-1.5,-1,-.5,0,.5,1,1.5];
const gD2=addGrid([DR.left,DR.top,DR.w,DR.h],{min:-.5,max:59.5},{show:true,min:-1.515,max:1.79,axisLine:{show:false},axisTick:{show:true,customValues:qTicks,length:7,lineStyle:{color:'#111'}},axisLabel:{show:true,customValues:qTicks,fontFamily:SERIF,fontSize:16,color:'#111',margin:9,formatter:minusFmt}});
[q100,q75,qMean,q50,q25,q0].forEach(a=>lineOn(gD2,[a.map((v,i)=>[i,v])],{color:'#111',width:1.4,type:[5,5]},4));
lineOn(gD2,[[[-.5,1],[59.5,1]]],{color:'#111',width:1.4,type:[8,6]},4);
lineOn(gD2,[[[-.5,-1.515],[59.5,-1.515],[59.5,1.79],[-.5,1.79],[-.5,-1.515]]],{color:'#111',width:1.5},5);
const cx=z=>z/1.96, cy=z=>660+z/2.45;
quantileTags.forEach(t=>{
 const p=[[cx(1125),cy(t[1])],[cx(1145),cy(t[1])],[cx(1158),cy(t[2])],[cx(1172),cy(t[2])]];
 graphic.push({type:'polyline',silent:true,z:50,shape:{points:p},style:{stroke:'#111',lineWidth:1.2,fill:null}});
 txt(t[0],cx(1178),cy(t[2]),t[0]==='mean'?16:17,{align:'left'});
});
txt('Distribution as heatmap',368,686,23);
visualMaps.push({type:'continuous',seriesIndex:sDens,min:0,max:2.5,left:707,top:826.5,padding:0,itemWidth:19,itemHeight:112.5,calculable:false,hoverLink:false,text:null,realtime:false,inRange:{color:['#5E4FA2','#3288BD','#66C2A5','#ABDDA4','#E6F598','#FFFFBF','#FEE08B','#FDAE61','#F46D43','#D53E4F','#9E0142']}});
txt('density',707,813,15,{align:'left',weight:'bold'});
[['2.5',830],['2',851],['1.5',872],['1',894],['0.5',915],['0',936]].forEach(l=>txt(l[0],730,l[1],16,{align:'left'}));
/* group bar */
const gG=addGrid([163.5,889,410.5,22],{min:0,max:groupCounts[0]+groupCounts[1]},{show:true,type:'category',data:['Group'],position:'right',axisLine:{show:false},axisTick:{show:false},axisLabel:{show:true,fontFamily:SERIF,fontSize:20,color:'#111',margin:5}});
['Control','COPD'].forEach((n,i)=>on(gG,{type:'bar',stack:'g',data:[groupCounts[i]],barWidth:'100%',itemStyle:{color:i?'#EE5F5F':'#3F80B5'},z:2}));
/* expression heat */
const exprMap={0:-1,1:-.8,2:-.55,3:-.38,4:-.22,5:0,6:.25,7:.55,8:.8,9:1};
const exprStr=exprRows.map(s=>s.replace(/\s/g,''));
const gH=addGrid([163.5,920,410.5,348],{show:false,type:'category',data:Array.from({length:120},(v,i)=>i)},{show:true,type:'category',inverse:true,position:'right',data:exprGenes,axisLine:{show:false},axisTick:{show:false},axisLabel:{show:true,interval:0,fontFamily:SERIF,fontSize:16,color:'#111',margin:5}});
const exprData=[];exprStr.forEach((row,r)=>row.split('').slice(0,120).forEach((c,k)=>exprData.push([k,r,exprMap[c]])));
const sExpr=on(gH,{type:'heatmap',data:exprData,progressive:0,animation:false,z:1});
visualMaps.push({type:'continuous',seriesIndex:sExpr,min:-1,max:1,left:708,top:1048,padding:0,itemWidth:18,itemHeight:92,calculable:false,hoverLink:false,text:null,realtime:false,inRange:{color:['#3377B0','#FFFFFF','#EE4444']}});
txt('Group',707,962,15,{align:'left',weight:'bold'});
graphic.push({type:'rect',silent:true,z:50,shape:{x:708,y:977,width:17,height:16},style:{fill:'#3F80B5'}},{type:'rect',silent:true,z:50,shape:{x:708,y:995,width:17,height:16},style:{fill:'#EE5F5F'}});
txt('Control',731,985,16,{align:'left'});txt('COPD',731,1003,16,{align:'left'});
txt('Expression',707,1034,15,{align:'left',weight:'bold'});
[['1',1051],['0.5',1073],['0',1095],['−0.5',1115.5],['−1',1137]].forEach(l=>txt(l[0],730,l[1],16,{align:'left'}));
/* dendrogram */
const gT=addGrid([75.5,920,86.5,348],{min:0,max:170,inverse:true},{min:0,max:20,inverse:true});
(function(){const pos={};for(let r=0;r<20;r++)pos['r'+r]=[0,r+.5];const segs=[];
 dendroMerges.forEach((m,i)=>{const a=pos[m[1]],b=pos[m[2]];segs.push([[a[0],a[1]],[m[0],a[1]],[m[0],b[1]],[b[0],b[1]]]);pos['m'+i]=[m[0],(a[1]+b[1])/2];});
 lineOn(gT,segs,{color:'#111',width:1.2},2);})();

/* D venn */
const gV=addGrid([1152.5,796,263.5,346],{min:0,max:1},{min:-1,max:1});
on(gV,{type:'scatter',data:[[0,0]],symbolSize:[395,346],itemStyle:{color:'#FFD5D5',opacity:1},z:2,clip:false});
on(gV,{type:'scatter',data:[[1,0]],symbolSize:[395,346],itemStyle:{color:'#01E7EB',opacity:.5},z:3,clip:false});
on(gV,{type:'scatter',data:[[0,0],[1,0]],symbolSize:[395,346],itemStyle:{color:'transparent',borderColor:'#fff',borderWidth:1},z:4,clip:false});
[[1125,0],[1283.5,1],[1442.5,2]].forEach(a=>{txt(String(vennValues[a[1]][0]),a[0],953,25);txt('('+vennValues[a[1]][1]+')',a[0],987,25);});
txt(vennSets[0],1125,753,25);txt(vennSets[1],1441,753,25);

/* E circle */
const sectorA=i=>24*i+.5, sectorW=20.5;
function arcPts(api,r,a0,a1){const n=10,o=[];for(let k=0;k<=n;k++)o.push(api.coord([r,a0+(a1-a0)*k/n]));return o;}
const polarBase={coordinateSystem:'polar',polarIndex:0,silent:true};
series.push(Object.assign({},polarBase,{type:'custom',data:goIds.map((g,i)=>[i]),z:2,renderItem:(p,api)=>{const i=api.value(0),a=sectorA(i),b=a+sectorW;
 return {type:'group',children:[
  {type:'polygon',shape:{points:arcPts(api,127,a,b).concat(arcPts(api,89,b,a))},style:{fill:'#BDBDBD'}},
  {type:'polyline',shape:{points:arcPts(api,101.5,a,b)},style:{stroke:'#fff',lineWidth:1.5,fill:null}},
  {type:'polyline',shape:{points:arcPts(api,114.5,a,b)},style:{stroke:'#fff',lineWidth:1.5,fill:null}}]};}}));
const sGoBars=series.length;
series.push(Object.assign({},polarBase,{type:'custom',data:goBarTop.map((t,i)=>[i,t,goZ[i],goBarSpan[i]]),encode:{radius:1,angle:0},z:3,renderItem:(p,api)=>{const i=api.value(0),t=api.value(1),a=sectorA(i),b=a+api.value(3);
 return {type:'polygon',shape:{points:arcPts(api,t,a,b).concat(arcPts(api,55,b,a))},style:{fill:api.visual('color'),stroke:'#111',lineWidth:1.1}};}}));
visualMaps.push({type:'continuous',seriesIndex:sGoBars,dimension:2,min:-2.4,max:2.4,orient:'horizontal',left:86,top:1721,padding:0,itemWidth:13,itemHeight:70,calculable:false,hoverLink:false,text:null,realtime:false,inRange:{color:['#2B3FD4','#FFFFFF','#E85555']}});
series.push(Object.assign({},polarBase,{type:'scatter',data:goBlueDots,symbolSize:8,itemStyle:{color:'#2A55C8'},z:4}));
series.push(Object.assign({},polarBase,{type:'scatter',data:goRedDots,symbolSize:8,itemStyle:{color:'#CC1F25'},z:5}));
series.push(Object.assign({},polarBase,{type:'custom',data:goIds.map((g,i)=>[i]),z:6,renderItem:(p,api)=>{const i=api.value(0),ang=sectorA(i)+sectorW/2,c=api.coord([137,ang]);
 return {type:'text',x:c[0],y:c[1],rotation:-ang*Math.PI/180,style:{text:goIds[i],fontSize:8,fontFamily:SANS,fontWeight:'bold',fill:'#222',align:'center',verticalAlign:'middle'}};}}));
[['z−score',120,1713],['logFC',235,1713],['decreasing',86,1742],['increasing',155.5,1742],['downregulated',216,1727],['upregulated',281,1727]].forEach(t=>txt(t[0],t[1],t[2],8.5,{family:SANS,color:'#333'}));
graphic.push({type:'circle',silent:true,z:50,shape:{cx:180.5,cy:1727,r:3},style:{fill:'#2A55C8'}},{type:'circle',silent:true,z:50,shape:{cx:250,cy:1727,r:3},style:{fill:'#CC1F25'}});
/* E table */
const gTb=addGrid([524,1398,504,254],{min:0,max:1},{min:0,max:16,inverse:true});
const tableRows=[['ID','Description']].concat(goIds.map((g,i)=>[g,goDesc[i]]));
on(gTb,{type:'custom',data:tableRows.map((r,i)=>[i]),z:2,renderItem:(p,api)=>{const i=api.value(0),a=api.coord([0,i]),b=api.coord([.127,i+1]),c=api.coord([1,i+1]);
 const fill=i===0?'#C4C4C4':(i%2?'#F1F1F1':'#E4E4E4'),y=(a[1]+b[1])/2;
 const tx=(t,x,al)=>({type:'text',x:x,y:y,style:{text:t,fontSize:9.5,fontFamily:SANS,fill:'#222',align:al,verticalAlign:'middle'}});
 return {type:'group',children:[
  {type:'rect',shape:{x:a[0],y:a[1]+.6,width:b[0]-a[0]-1,height:b[1]-a[1]-1.2},style:{fill:fill}},
  {type:'rect',shape:{x:b[0],y:a[1]+.6,width:c[0]-b[0],height:b[1]-a[1]-1.2},style:{fill:fill}},
  tx(tableRows[i][0],(a[0]+b[0])/2,'center'),tx(tableRows[i][1],(b[0]+c[0])/2,'center')]};}});

/* F chord */
const gC=addGrid([1252,1248,468,412],{min:-1,max:1},{min:-1,max:1});
const termCount=chordTerms.map((t,k)=>chordGeneTerms.reduce((n,l)=>n+(l.includes(k)?1:0),0));
const unitDeg=(178-.8*9)/termCount.reduce((a,b)=>a+b,0);
const termStart=[];(function(){let th=.8;termCount.forEach((n,k)=>{termStart.push(th);th+=n*unitDeg+.8;});})();
const geneDeg=180/chordGenes.length;
const P=(r,deg)=>[r*Math.sin(deg*Math.PI/180),r*Math.cos(deg*Math.PI/180)];
function arcU(r,a,b,n){const o=[];for(let k=0;k<=n;k++)o.push(P(r,a+(b-a)*k/n));return o;}
const chordLinks=[];(function(){const used=termCount.map(()=>0);
 chordGeneTerms.forEach((ts,g)=>{const g0=-(g*geneDeg+.8),w=(geneDeg-1.6)/ts.length;ts.forEach((t,j)=>{
  const th0=termStart[t]+used[t]*unitDeg;used[t]++;chordLinks.push({g:g,t:t,a0:g0-j*w,a1:g0-(j+1)*w,b0:th0,b1:th0+unitDeg});});});})();
chordLinks.sort((a,b)=>a.t-b.t);
function bez(p0,p1){const o=[];for(let k=1;k<24;k++){const s=k/24,m=1-s;o.push([m*m*p0[0]+s*s*p1[0],m*m*p0[1]+s*s*p1[1]]);}return o;}
on(gC,{type:'custom',data:chordLinks.map((l,i)=>[i]),clip:false,z:2,renderItem:(p,api)=>{const l=chordLinks[api.value(0)];
 const A=arcU(.905,l.a0,l.a1,4),B=arcU(.905,l.b1,l.b0,4);
 const pts=A.concat(bez(A[4],B[0]),B,bez(B[4],A[0]));
 return {type:'polygon',shape:{points:pts.map(q=>api.coord(q))},style:{fill:ribbonColors[l.t],stroke:'#8a8a8a',lineWidth:.5}};}});
on(gC,{type:'custom',data:chordTerms.map((t,i)=>[i]),clip:false,z:3,renderItem:(p,api)=>{const i=api.value(0),a=termStart[i],b=a+termCount[i]*unitDeg;
 const pts=arcU(1,a,b,16).concat(arcU(.905,b,a,16));
 return {type:'polygon',shape:{points:pts.map(q=>api.coord(q))},style:{fill:termRingColors[i],stroke:'#444',lineWidth:.7}};}});
on(gC,{type:'custom',data:chordGenes.map((t,i)=>[i]),clip:false,z:3,renderItem:(p,api)=>{const i=api.value(0),a=-(i*geneDeg+.8),b=-(i*geneDeg+geneDeg-.8);
 const pts=arcU(1,a,b,5).concat(arcU(.945,b,a,5));const m=-(i+.5)*geneDeg,c=api.coord(P(1.125,m));
 return {type:'group',children:[{type:'polygon',shape:{points:pts.map(q=>api.coord(q))},style:{fill:geneRing[i]}},
  {type:'text',x:c[0],y:c[1],rotation:(-m-90)*Math.PI/180,style:{text:chordGenes[i],fontSize:9.5,fontFamily:SANS,fill:'#111',align:'center',verticalAlign:'middle'}}]};}});
const fxz=z=>1060+z/2.125, fyz=z=>1230+z/3;
[[573,1468],[771,1468],[1068,1468],[1218,1468],[575,1497],[771,1497],[1068,1497],[1218,1497],[575,1522],[771,1522]].forEach((p,i)=>{
 graphic.push({type:'rect',silent:true,z:50,shape:{x:fxz(p[0])-2.5,y:fyz(p[1])-2.5,width:5,height:5},style:{fill:ribbonColors[i]}});
 txt(chordTerms[i],fxz(p[0])+4,fyz(p[1]),5.6,{align:'left',family:SANS});
});
[['shape',396,1466,4],['NA',433,1467,5.5],['logFC',485,1462,4],['GO Terms',546,1497,3.5],['−1',457,1500,5],['1',514,1500,5]].forEach(t=>txt(t[0],fxz(t[1]),fyz(t[2]),t[3],{family:SANS,weight:t[3]<5?'bold':'normal'}));
graphic.push({type:'rect',silent:true,z:50,shape:{x:fxz(458),y:fyz(1476),width:27,height:5},style:{fill:{type:'linear',x:0,y:0,x2:1,y2:0,colorStops:[{offset:0,color:'#30E0E0'},{offset:.5,color:'#000'},{offset:1,color:'#E01010'}]}}});

/* graph helper */
function graphOn(i,nodes,edges,size,font,symbol,edge,fw){
 on(i,{type:'graph',coordinateSystem:'cartesian2d',layout:'none',roam:false,z:3,
  data:nodes.map(n=>({name:n[0],value:[n[1],n[2]],itemStyle:{color:n[3]}})),
  links:edges.map(e=>{const s=e.split('-');return {source:s[0],target:s[1]};}),
  symbol:symbol,symbolSize:size,edgeSymbol:['none','none'],
  lineStyle:Object.assign({opacity:1,curveness:0},edge),
  label:{show:true,position:'inside',formatter:'{b}',fontFamily:SANS,fontSize:font,fontWeight:fw||'normal',color:'#111'},
  emphasis:{disabled:true}});}
/* G */
const gN=addGrid([0,1760,800,420],{min:0,max:1568},{min:0,max:1260,inverse:true});
graphOn(gN,netNodes,netEdges,[46,19],12,'circle',{color:'#6f6f6f',width:1});
/* H */
const gHb=addGrid([0,2190,1798,409],{min:0,max:1568},{min:0,max:1227,inverse:true});
const hubEdge={color:'#555',width:.9};
graphOn(gHb,hubA,hubEdges12,[44,20],6.5,'rect',hubEdge,'bold');
graphOn(gHb,hubB,hubEdges12,[45,20],6.5,'rect',hubEdge,'bold');
graphOn(gHb,hubC,hubEdges3,[44,20],6.5,'rect',hubEdge,'bold');

/* I */
const gI=addGrid([1100,1772,656,271],
 {show:true,min:0,max:4,axisLine:{show:true,onZero:false,lineStyle:{color:'#666',width:2}},axisTick:{show:false},axisLabel:{show:false}},
 {show:true,min:0,max:10.34,name:'size of intersection',nameLocation:'middle',nameGap:84,nameTextStyle:{fontFamily:SERIF,fontSize:11,color:'#222'},axisLine:{show:true,onZero:false,lineStyle:{color:'#333',width:1}},axisTick:{show:true,customValues:upsetTicks,length:3,lineStyle:{color:'#333'}},axisLabel:{show:true,customValues:upsetTicks,fontFamily:SERIF,fontSize:15,color:'#222',margin:12,formatter:v=>(+v).toFixed(1)}});
on(gI,{type:'bar',barWidth:98,z:2,data:upsetSizes.map((v,i)=>({value:[i+1,v],itemStyle:{color:i?'#2E2E2E':'#EE4500'},label:{fontSize:i?8:20}})),label:{show:true,position:'top',fontFamily:SERIF,color:'#111',distance:3,formatter:p=>p.value[1]}});
const gM=addGrid([1100,2047,656,97],{min:0,max:4},
 {show:true,min:-.53,max:2.32,inverse:true,axisLine:{show:false},axisTick:{show:false},axisLabel:{show:true,customValues:[0,1,2],align:'center',margin:48,fontFamily:SERIF,fontSize:15,color:'#111',formatter:v=>upsetSets[v]}});
on(gM,{type:'scatter',data:[],z:1,markArea:{silent:true,itemStyle:{color:'#F5F5F5'},data:[[{yAxis:-.53},{yAxis:.5}],[{yAxis:1.5},{yAxis:2.32}]]}});
on(gM,{type:'scatter',data:[[2,0],[2,2]],symbolSize:5,itemStyle:{color:'#E2E2E2'},z:2});
upsetMembers.forEach((m,i)=>{const col=i?'#111':'#E0241A';
 on(gM,{type:'line',data:m.map(r=>[i+1,r]),symbol:'circle',symbolSize:6,showSymbol:true,lineStyle:{color:col,width:1.8},itemStyle:{color:col},z:3});});
const gS=addGrid([869,2048,145,102],
 {show:true,min:-.55,max:7.4,inverse:true,axisLine:{show:true,onZero:false,lineStyle:{color:'#666',width:1}},axisTick:{show:false},axisLabel:{show:true,customValues:[0,2.5,5],fontFamily:SERIF,fontSize:6,color:'#111',margin:4,formatter:v=>(+v).toFixed(1)}},
 {show:false,type:'category',data:upsetSets,inverse:true});
on(gS,{type:'bar',data:upsetSetSizes,barWidth:14,itemStyle:{color:'#000'},z:2});
txt('the number of each sets',911,2162,7,{weight:'bold'});

const chart=echarts.init(document.getElementById('c'),null,{width:1798,height:2599,renderer:'canvas'});
chart.setOption({
 backgroundColor:'#fff',animation:false,
 textStyle:{fontFamily:SERIF},
 grid:grids,xAxis:xAxes,yAxis:yAxes,
 polar:{center:[192,1502],radius:143},
 angleAxis:{type:'value',min:0,max:360,startAngle:90,clockwise:true,show:false,splitLine:{show:false}},
 radiusAxis:{type:'value',min:0,max:143,show:false,splitLine:{show:false}},
 legend:[
  {data:['Control','COPD'],left:313,top:54,itemWidth:8,itemHeight:8,itemGap:14,icon:'circle',selectedMode:false,padding:0,textStyle:{fontFamily:SERIF,fontSize:15,color:'#111',padding:[0,0,0,2]}},
  {data:['DOWN','NOT','UP'],orient:'vertical',left:1695,top:303,itemWidth:14,itemHeight:14,itemGap:11.5,icon:'circle',selectedMode:false,padding:0,textStyle:{fontFamily:SERIF,fontSize:18,fontWeight:'bold',color:'#111',padding:[0,0,0,11]}}
 ],
 visualMap:visualMaps,
 graphic:graphic,
 series:series
});
</script></body></html>
